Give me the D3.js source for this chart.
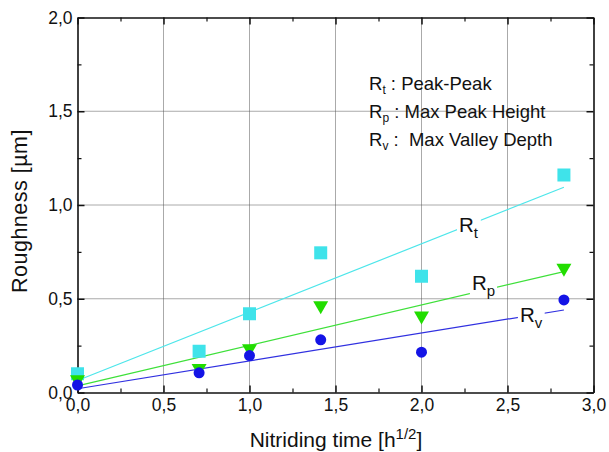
<!DOCTYPE html>
<html><head><meta charset="utf-8">
<script src="https://cdn.jsdelivr.net/npm/d3@7"></script>
<style>body{margin:0;background:#fff}svg{display:block}text{font-family:"Liberation Sans",Arial,sans-serif;fill:#111;white-space:pre}</style>
</head><body><svg id="c" width="609" height="452"></svg>
<script>
// ---- data ----
const timeX = [0, 0.707, 1.0, 1.414, 2.0, 2.828];
const rtVals = [0.10, 0.22, 0.42, 0.745, 0.62, 1.16];
const rpVals = [0.06, 0.12, 0.225, 0.455, 0.40, 0.655];
const rvVals = [0.04, 0.105, 0.197, 0.281, 0.215, 0.494];
// fitted lines: [x0, y0, x1, y1]
const rtFit = [0, 0.064, 2.828, 1.095];
const rpFit = [0, 0.035, 2.828, 0.645];
const rvFit = [0, 0.02, 2.828, 0.44];
const xTicks = [0, 0.5, 1.0, 1.5, 2.0, 2.5, 3.0];
const yTicks = [0, 0.5, 1.0, 1.5, 2.0];
const xMinor = [0.25, 0.75, 1.25, 1.75, 2.25, 2.75];
const yMinor = [0.25, 0.75, 1.25, 1.75];
const legendLines = [["R","t"," : Peak-Peak"],["R","p"," : Max Peak Height"],["R","v"," :  Max Valley Depth"]];
const curveLabels = [["t", 2.218, 0.856],["p", 2.293, 0.547],["v", 2.572, 0.376]];

const svg = d3.select("#c");
const L=77.5, R=593.5, T=17.5, B=392.5;
const x = d3.scaleLinear().domain([0,3]).range([L,R]);
const y = d3.scaleLinear().domain([0,2]).range([B,T]);
const fmt = d => d3.format(".1f")(d).replace(".", ",");

// grid
const g = svg.append("g");
g.selectAll(".gx").data(xTicks.slice(1,-1)).enter().append("line")
 .attr("x1",d=>x(d)).attr("x2",d=>x(d)).attr("y1",T).attr("y2",B)
 .attr("stroke","#555").attr("stroke-width",1).attr("stroke-dasharray","1,1");
g.selectAll(".gy").data(yTicks.slice(1,-1)).enter().append("line")
 .attr("y1",d=>y(d)).attr("y2",d=>y(d)).attr("x1",L).attr("x2",R)
 .attr("stroke","#555").attr("stroke-width",1).attr("stroke-dasharray","1,1");

function styleAx(a, withText){
  a.select(".domain").attr("stroke","#111").attr("stroke-width",1.6);
  a.selectAll("line").attr("stroke","#111").attr("stroke-width",1.5);
  if(withText) a.selectAll("text").attr("font-size",17.5).attr("fill","#111").style("font-family","Liberation Sans, Arial");
}
function minor(a){ a.select(".domain").remove(); a.selectAll("line").attr("stroke","#111").attr("stroke-width",1.2); }

// axes (ticks inward)
svg.append("g").attr("transform",`translate(0,${B})`)
 .call(d3.axisBottom(x).tickValues(xTicks).tickFormat(fmt).tickSizeInner(-7).tickSizeOuter(0).tickPadding(6))
 .call(a=>styleAx(a,true));
svg.append("g").attr("transform",`translate(0,${B})`)
 .call(d3.axisBottom(x).tickValues(xMinor).tickFormat("").tickSizeInner(-4).tickSizeOuter(0)).call(minor);
svg.append("g").attr("transform",`translate(0,${T})`)
 .call(d3.axisTop(x).tickValues(xTicks).tickFormat("").tickSizeInner(-7).tickSizeOuter(0)).call(a=>styleAx(a,false));
svg.append("g").attr("transform",`translate(0,${T})`)
 .call(d3.axisTop(x).tickValues(xMinor).tickFormat("").tickSizeInner(-4).tickSizeOuter(0)).call(minor);
svg.append("g").attr("transform",`translate(${L},0)`)
 .call(d3.axisLeft(y).tickValues(yTicks).tickFormat(fmt).tickSizeInner(-7).tickSizeOuter(0).tickPadding(5))
 .call(a=>styleAx(a,true));
svg.append("g").attr("transform",`translate(${L},0)`)
 .call(d3.axisLeft(y).tickValues(yMinor).tickFormat("").tickSizeInner(-4).tickSizeOuter(0)).call(minor);
svg.append("g").attr("transform",`translate(${R},0)`)
 .call(d3.axisRight(y).tickValues(yTicks).tickFormat("").tickSizeInner(-7).tickSizeOuter(0)).call(a=>styleAx(a,false));
svg.append("g").attr("transform",`translate(${R},0)`)
 .call(d3.axisRight(y).tickValues(yMinor).tickFormat("").tickSizeInner(-4).tickSizeOuter(0)).call(minor);

// fit lines
const fits = [[rtFit,"#4de6ea"],[rpFit,"#3ee03a"],[rvFit,"#3030e0"]];
fits.forEach(([f,c])=>svg.append("line").attr("x1",x(f[0])).attr("y1",y(f[1])).attr("x2",x(f[2])).attr("y2",y(f[3]))
  .attr("stroke",c).attr("stroke-width",1.2));

// in-plot labels with white background
curveLabels.forEach(([s,lx,ly])=>{
  const px=x(lx), py=y(ly);
  const bg = svg.append("rect").attr("fill","#fff");
  const t = svg.append("text").attr("x",px).attr("y",py).attr("font-size",20.5);
  t.append("tspan").text("R");
  t.append("tspan").attr("font-size",15).attr("dy",6).text(s);
  const bb = t.node().getBBox();
  bg.attr("x",bb.x-2).attr("y",bb.y+2).attr("width",bb.width+4).attr("height",bb.height-4);
});

// markers
svg.selectAll(".sq").data(timeX).enter().append("rect")
 .attr("x",(d)=>x(d)-6.5).attr("y",(d,i)=>y(rtVals[i])-6.5).attr("width",13).attr("height",13).attr("fill","#3fe3ea");
svg.selectAll(".tr").data(timeX).enter().append("path")
 .attr("d",(d,i)=>{const cx=x(d), cy=y(rpVals[i]);return `M${cx-7.5},${cy-6}L${cx+7.5},${cy-6}L${cx},${cy+7}Z`;})
 .attr("fill","#22dd00");
svg.selectAll(".ci").data(timeX).enter().append("circle")
 .attr("cx",d=>x(d)).attr("cy",(d,i)=>y(rvVals[i])).attr("r",5.5).attr("fill","#1414e6");

// legend
legendLines.forEach((l,i)=>{
  const t = svg.append("text").attr("x",369).attr("y",90+i*28).attr("font-size",18.5);
  t.append("tspan").text(l[0]);
  t.append("tspan").attr("font-size",12).attr("dy",4).text(l[1]);
  t.append("tspan").attr("dy",-4).text(l[2]);
});

// axis titles
const xt = svg.append("text").attr("x",336).attr("y",447).attr("text-anchor","middle").attr("font-size",21);
xt.append("tspan").text("Nitriding time [h");
xt.append("tspan").attr("font-size",15).attr("dy",-8).text("1/2");
xt.append("tspan").attr("dy",8).text("]");
svg.append("text").attr("transform","translate(27,211) rotate(-90)").attr("text-anchor","middle").attr("font-size",21.5).attr("letter-spacing",0.5).text("Roughness [µm]");
</script></body></html>
